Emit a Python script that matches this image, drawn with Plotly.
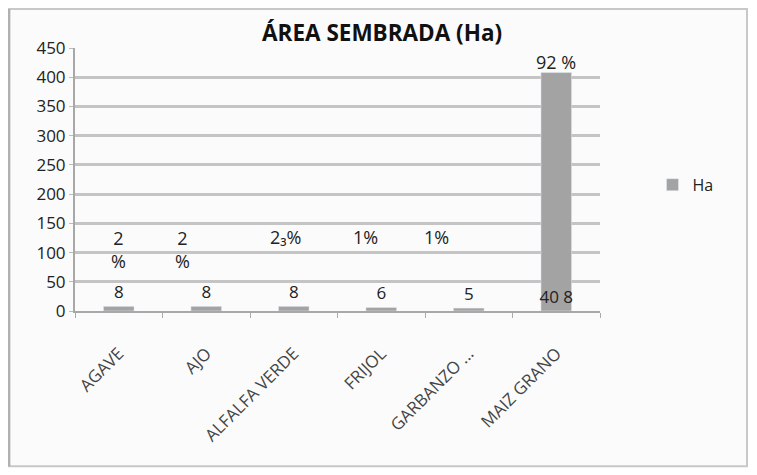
import plotly.graph_objects as go

cultivos = ["AGAVE", "AJO", "ALFALFA VERDE", "FRIJOL", "GARBANZO ...", "MAIZ GRANO"]
hectareas = [8, 8, 8, 6, 5, 408]
etiquetas_ha = ["8", "8", "8", "6", "5", "40 8"]
porcentajes = ["2<br>%", "2<br>%", "2₃%", "1%", "1%", "92 %"]
altura_pct = [105, 105, 127, 127, 127, 426]

fuente = "Open Sans, Noto Sans, Liberation Sans, sans-serif"

fig = go.Figure()

fig.add_trace(go.Bar(
    x=cultivos,
    y=hectareas,
    name="Ha",
    marker=dict(color="#a3a3a3"),
    width=0.35,
    text=etiquetas_ha,
    textposition=["outside"] * 5 + ["inside"],
    insidetextanchor="start",
    textangle=0,
    constraintext="none",
    textfont=dict(family=fuente, size=17, color="#222"),
    cliponaxis=False,
))

# etiquetas de porcentaje, desplazadas como en el original
desplazamiento = [0, -24, -8, -16, -32, 0]
for c, p, h, dx in zip(cultivos, porcentajes, altura_pct, desplazamiento):
    fig.add_annotation(x=c, y=h, text=p, showarrow=False, xshift=dx,
                       font=dict(family=fuente, size=18, color="#222"))

# marco exterior del grafico
fig.add_shape(type="rect", xref="paper", yref="paper",
              x0=-0.126, x1=1.28, y0=-0.59, y1=1.148,
              line=dict(color="#c8c8c8", width=2), fillcolor="#fbfbfb", layer="below")
fig.add_shape(type="line", xref="paper", yref="paper",
              x0=-0.126, x1=-0.126, y0=-0.59, y1=1.148,
              line=dict(color="#b0b0b0", width=3))

# la pagina agrega 8px de margen al cuerpo: se compensa en los margenes
fig.update_layout(
    width=757, height=475,
    margin=dict(l=67, r=165, t=40, b=172),
    paper_bgcolor="white",
    plot_bgcolor="rgba(0,0,0,0)",
    title=dict(text="<b>ÁREA SEMBRADA (Ha)</b>", xref="paper", x=0.585, xanchor="center",
               y=0.947, yanchor="middle",
               font=dict(family=fuente, size=22.5, color="#111")),
    showlegend=True,
    legend=dict(x=1.1, y=0.48, xanchor="left", yanchor="middle",
                bgcolor="rgba(0,0,0,0)", itemwidth=30,
                font=dict(family=fuente, size=16, color="#222")),
    font=dict(family=fuente, color="#222"),
)

fig.update_yaxes(range=[0, 450], dtick=50, showgrid=True, gridcolor="#c4c4c4",
                 gridwidth=3, showline=True, linecolor="#a8a8a8", linewidth=2,
                 ticks="outside", ticklen=4, tickcolor="#bbb",
                 tickfont=dict(family=fuente, size=17, color="#222"), zeroline=False)
fig.update_xaxes(showline=True, linecolor="#a8a8a8", linewidth=2,
                 ticks="outside", tickson="boundaries", ticklen=5, tickcolor="#aaa",
                 tickangle=-45, ticklabelstandoff=24,
                 tickfont=dict(family=fuente, size=17, color="#444"))

fig.write_html("out.html")
